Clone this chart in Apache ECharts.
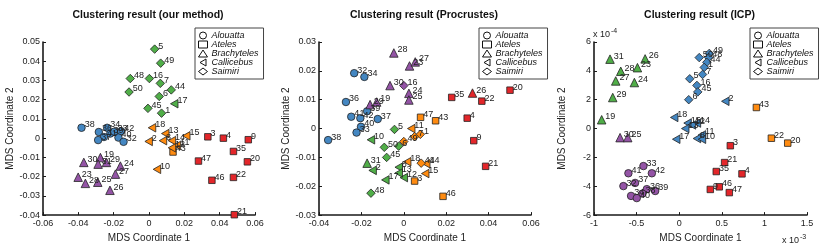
<!DOCTYPE html>
<html><head><meta charset="utf-8">
<script src="https://cdn.jsdelivr.net/npm/echarts@6/dist/echarts.min.js"></script>
<style>html,body{margin:0;padding:0;background:#fff}#c{width:831px;height:248px}</style>
</head><body><div id="c"></div>
<script>
// species index: 0 Alouatta, 1 Ateles, 2 Brachyteles, 3 Callicebus, 4 Saimiri
const speciesNames = ['Alouatta', 'Ateles', 'Brachyteles', 'Callicebus', 'Saimiri'];
const panelTitles = ['Clustering result (our method)', 'Clustering result (Procrustes)', 'Clustering result (ICP)'];
// cluster keys: b blue, r red, p purple, o orange, g green
// rows: [id, x, y, species, cluster]
const ourMethodPts = [
  [38,-0.0382,0.0054,0,'b'],[34,-0.0237,0.0054,0,'b'],[36,-0.0284,0.0032,0,'b'],[39,-0.0219,0.0024,0,'b'],[33,-0.0196,0.0034,0,'b'],
  [42,-0.0158,0.0036,0,'b'],[41,-0.0255,0.0006,0,'b'],[37,-0.0288,-0.001,0,'b'],[40,-0.0173,0.0003,0,'b'],[32,-0.0144,-0.0019,0,'b'],
  [3,0.0333,0.0007,1,'r'],[4,0.0421,0.0,1,'r'],[9,0.0562,-0.0008,1,'r'],[35,0.0478,-0.0069,1,'r'],[20,0.0557,-0.0123,1,'r'],
  [47,0.028,-0.0119,1,'r'],[46,0.0356,-0.0219,1,'r'],[22,0.0478,-0.0204,1,'r'],[21,0.0483,-0.0398,1,'r'],[43,0.0136,-0.0072,1,'o'],
  [30,-0.0369,-0.0126,2,'p'],[19,-0.0275,-0.0101,2,'p'],[31,-0.0288,-0.0135,2,'p'],[29,-0.0241,-0.0126,2,'p'],[24,-0.0162,-0.0145,2,'p'],
  [27,-0.019,-0.0187,2,'p'],[23,-0.0401,-0.0203,2,'p'],[28,-0.036,-0.0235,2,'p'],[25,-0.029,-0.0229,2,'p'],[26,-0.0221,-0.0271,2,'p'],
  [18,0.0017,0.0054,3,'o'],[13,0.0092,0.0024,3,'o'],[8,0.0079,-0.0013,3,'o'],[2,-0.0002,-0.0017,3,'o'],[14,0.013,-0.0013,3,'o'],
  [15,0.0211,0.0012,3,'o'],[11,0.0158,-0.0038,3,'o'],[12,0.013,-0.005,3,'o'],[10,0.0045,-0.0162,3,'o'],[17,0.0143,0.0179,3,'g'],
  [5,0.0032,0.0463,4,'g'],[49,0.0066,0.039,4,'g'],[48,-0.0106,0.031,4,'g'],[16,0.0002,0.031,4,'g'],[7,0.0064,0.0285,4,'g'],
  [50,-0.0113,0.024,4,'g'],[44,0.0126,0.0251,4,'g'],[6,0.0058,0.0217,4,'g'],[45,-0.0006,0.0155,4,'g'],[1,0.0071,0.013,4,'g']
];
const procrustesPts = [
  [32,-0.0234,0.0192,0,'b'],[34,-0.0186,0.0179,0,'b'],[36,-0.0273,0.0092,0,'b'],[39,-0.0173,0.006,0,'b'],[41,-0.0248,0.0041,0,'b'],
  [42,-0.0205,0.0036,0,'b'],[37,-0.0123,0.0033,0,'b'],[40,-0.0202,0.0006,0,'b'],[33,-0.0223,-0.0014,0,'b'],[38,-0.0357,-0.004,0,'b'],
  [35,0.0226,0.0108,1,'r'],[22,0.0368,0.0095,1,'r'],[20,0.0501,0.0133,1,'r'],[47,0.0079,0.0039,1,'o'],[43,0.015,0.0027,1,'o'],
  [4,0.0299,0.0036,1,'r'],[3,0.0051,-0.0182,1,'o'],[46,0.0185,-0.0235,1,'o'],[9,0.033,-0.0042,1,'r'],[21,0.0386,-0.0131,1,'r'],
  [28,-0.0047,0.0262,2,'p'],[23,0.0027,0.0217,2,'p'],[27,0.0054,0.0231,2,'p'],[30,-0.0065,0.0149,2,'p'],[24,0.0024,0.0122,2,'p'],
  [25,0.0024,0.0099,2,'p'],[26,0.0324,0.0123,2,'r'],[29,-0.0159,0.0083,2,'p'],[19,-0.0128,0.0092,2,'p'],[31,-0.0173,-0.012,2,'g'],
  [10,-0.0155,-0.0039,3,'g'],[11,0.0035,0.0,3,'o'],[8,-0.0024,-0.0134,3,'g'],[2,-0.0147,-0.0145,3,'g'],[18,0.0016,-0.0115,3,'o'],
  [14,0.0106,-0.0122,3,'o'],[15,0.0101,-0.0156,3,'o'],[17,-0.0087,-0.0178,3,'g'],[12,0.0,-0.017,3,'g'],[13,-0.0024,-0.0154,3,'g'],
  [50,-0.0092,-0.0065,4,'g'],[6,-0.0024,-0.0061,4,'g'],[49,0.0,-0.0045,4,'o'],[7,0.0051,-0.0028,4,'o'],[1,0.0078,-0.002,4,'o'],
  [45,-0.0081,-0.01,4,'g'],[48,-0.0155,-0.0224,4,'g'],[5,-0.0044,-0.0003,4,'g'],[16,0.0,0.0149,4,'p'],[44,0.0082,-0.012,4,'o']
];
// ICP: x in units of 1e-3, y in units of 1e-4
const icpPts = [
  [33,-0.42,-2.6,0,'p'],[41,-0.596,-3.1,0,'p'],[42,-0.321,-3.1,0,'p'],[32,-0.655,-3.99,0,'p'],[37,-0.518,-3.77,0,'p'],
  [36,-0.38,-4.2,0,'p'],[39,-0.282,-4.33,0,'p'],[34,-0.565,-4.67,0,'p'],[38,-0.432,-4.51,0,'p'],[40,-0.498,-4.82,0,'p'],
  [43,0.906,1.46,1,'o'],[22,1.082,-0.67,1,'o'],[20,1.274,-1.01,1,'o'],[3,0.6,-1.19,1,'r'],[21,0.533,-2.36,1,'r'],
  [35,0.435,-2.98,1,'r'],[4,0.737,-3.14,1,'r'],[9,0.365,-4.22,1,'r'],[46,0.47,-4.04,1,'r'],[47,0.588,-4.44,1,'r'],
  [31,-0.812,4.81,2,'g'],[26,-0.4,4.83,2,'g'],[28,-0.686,3.97,2,'g'],[23,-0.49,4.22,2,'g'],[27,-0.745,3.3,2,'g'],
  [24,-0.526,3.19,2,'g'],[29,-0.78,2.15,2,'g'],[19,-0.91,0.61,2,'g'],[30,-0.694,-0.63,2,'p'],[25,-0.604,-0.63,2,'p'],
  [2,0.541,1.89,3,'b'],[18,-0.059,0.77,3,'b'],[15,0.098,0.38,3,'b'],[14,0.208,0.38,3,'b'],[12,0.149,0.25,3,'b'],
  [13,0.071,0.0,3,'b'],[11,0.267,-0.44,3,'b'],[8,0.208,-0.69,3,'b'],[10,0.267,-0.74,3,'b'],[17,-0.035,-0.74,3,'b'],
  [50,0.235,4.92,4,'b'],[49,0.353,5.21,4,'b'],[48,0.345,4.93,4,'b'],[44,0.324,4.59,4,'b'],[1,0.294,4.24,4,'b'],
  [7,0.274,3.75,4,'b'],[5,0.124,3.45,4,'b'],[16,0.208,2.99,4,'b'],[45,0.218,2.54,4,'b'],[6,0.112,2.0,4,'b']
];
const xRanges = [[-0.06,0.06,0.02],[-0.04,0.06,0.02],[-1,1.5,0.5]];
const yRanges = [[-0.04,0.05,0.01],[-0.03,0.03,0.01],[-6,6,2]];

const FONT = '"Liberation Sans", Arial, Helvetica, sans-serif';
const colors = {b:'#4487c2', r:'#e3262a', p:'#9454a6', o:'#ff8b10', g:'#50ae48'};
const LTRI = 'path://M0,50L86,0L86,100Z';
const symbols = ['circle','rect','triangle',LTRI,'diamond'];
const sizes = [7.5,6.5,8.5,[7.5,8.5],8.5];
const grids = [
  {left:43, top:42, width:212, height:179},
  {left:319, top:42, width:212, height:179},
  {left:594, top:42, width:213, height:179}
];
const legendLeft = [195, 479, 750];
const panels = [ourMethodPts, procrustesPts, icpPts];

const xAxis = [], yAxis = [], series = [], legend = [], graphic = [];
grids.forEach((g, p) => {
  const axBase = {
    axisLine:{show:true, onZero:false, lineStyle:{color:'#1a1a1a', width:1.6}},
    axisTick:{show:true, inside:true, length:3, lineStyle:{color:'#1a1a1a', width:1}},
    splitLine:{show:false},
    axisLabel:{color:'#222', fontSize:9, fontFamily:FONT},
    nameTextStyle:{color:'#222', fontSize:10, fontFamily:FONT}
  };
  xAxis.push(Object.assign({}, axBase, {type:'value', gridIndex:p, min:xRanges[p][0], max:xRanges[p][1], interval:xRanges[p][2],
    name:'MDS Coordinate 1', nameLocation:'middle', nameGap:15,
    axisLabel:Object.assign({}, axBase.axisLabel, {margin:4})}));
  yAxis.push(Object.assign({}, axBase, {type:'value', gridIndex:p, min:yRanges[p][0], max:yRanges[p][1], interval:yRanges[p][2],
    name:'MDS Coordinate 2', nameLocation:'middle', nameGap: p===1 ? 26 : 27, nameRotate:90,
    axisLabel:Object.assign({}, axBase.axisLabel, {margin:3})}));
  for (let s = 0; s < 5; s++) {
    series.push({
      type:'scatter', name:speciesNames[s], xAxisIndex:p, yAxisIndex:p, clip:false,
      symbol:symbols[s], symbolSize:sizes[s],
      itemStyle:{borderColor:'#222', borderWidth:0.8, opacity:1},
      label:{show:true, position:'right', distance:0, offset:[-1,-3], formatter:'{b}', color:'#222', fontSize:9, fontFamily:FONT},
      emphasis:{disabled:true},
      data: panels[p].filter(r => r[3] === s).map(r => ({name:String(r[0]), value:[r[1], r[2]], itemStyle:{color:colors[r[4]]}}))
    });
  }
  legend.push({
    left:legendLeft[p], top:28, orient:'vertical', itemGap:0, itemWidth:9, itemHeight:7,
    padding:[3,5,3,3], borderColor:'#444', borderWidth:1, backgroundColor:'#fff', selectedMode:false,
    textStyle:{fontSize:9, fontStyle:'italic', color:'#111', fontFamily:FONT, lineHeight:9, padding:[0,0,0,-1]},
    itemStyle:{color:'#fff', borderColor:'#111', borderWidth:1},
    data: speciesNames.map((n, i) => ({name:n, icon:symbols[i]}))
  });
  graphic.push({type:'text', x:g.left + g.width/2 - 1, y:15, style:{text:panelTitles[p], font:'bold 10.5px ' + FONT, fill:'#111', textAlign:'center', textVerticalAlign:'middle', align:'center', verticalAlign:'middle'}});
});
// exponent labels for ICP panel
graphic.push({type:'text', x:593, y:35, style:{text:'x 10', font:'9px ' + FONT, fill:'#222', textVerticalAlign:'middle', verticalAlign:'middle'}});
graphic.push({type:'text', x:611, y:31, style:{text:'-4', font:'7px ' + FONT, fill:'#222', textVerticalAlign:'middle', verticalAlign:'middle'}});
graphic.push({type:'text', x:782, y:241, style:{text:'x 10', font:'9px ' + FONT, fill:'#222', textVerticalAlign:'middle', verticalAlign:'middle'}});
graphic.push({type:'text', x:800, y:237, style:{text:'-3', font:'7px ' + FONT, fill:'#222', textVerticalAlign:'middle', verticalAlign:'middle'}});

const chart = echarts.init(document.getElementById('c'), null, {renderer:'canvas'});
chart.setOption({animation:false, backgroundColor:'#fff', grid:grids, xAxis, yAxis, series, legend, graphic});
</script>
</body></html>
